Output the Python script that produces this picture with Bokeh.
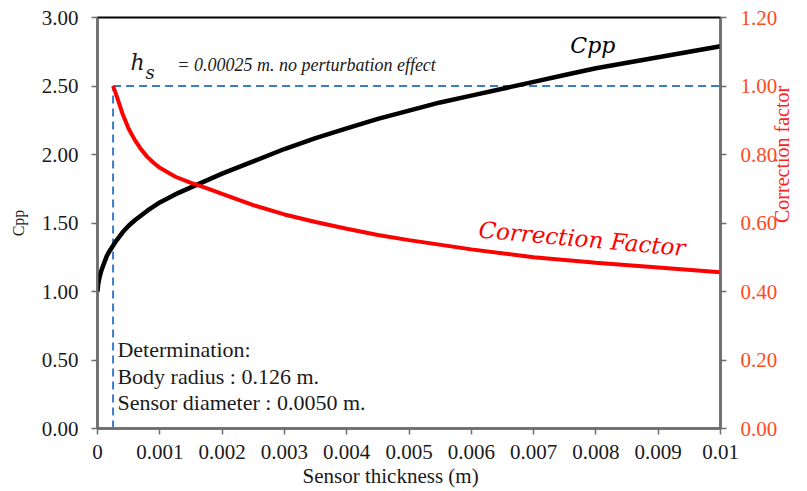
import math

from bokeh.embed import file_html
from bokeh.models import (CustomJSTickFormatter, FixedTicker, Label, LinearAxis,
                          NumeralTickFormatter, Range1d, Title)
from bokeh.plotting import figure
from bokeh.resources import INLINE

# Pressure coefficient Cpp against sensor thickness (m)
thickness_cpp = [0, 0.00001, 0.00003, 0.00006, 0.0001, 0.00015, 0.0002, 0.0003,
                 0.0004, 0.0005, 0.0006, 0.0008, 0.001, 0.0013, 0.0016, 0.002,
                 0.0025, 0.003, 0.0035, 0.004, 0.0045, 0.005, 0.0055, 0.006,
                 0.0065, 0.007, 0.0075, 0.008, 0.0085, 0.009, 0.0095, 0.01]
cpp = [1.00, 1.05, 1.10, 1.15, 1.20, 1.26, 1.30, 1.37,
       1.43, 1.48, 1.52, 1.59, 1.65, 1.72, 1.78, 1.86,
       1.95, 2.04, 2.12, 2.19, 2.26, 2.32, 2.38, 2.43,
       2.48, 2.53, 2.58, 2.63, 2.67, 2.71, 2.75, 2.79]

# Correction factor, starting from the reference thickness h_s
hs = 0.00025
thickness_cf = [hs, 0.0003, 0.0004, 0.0005, 0.0006, 0.0007, 0.0008, 0.0009,
                0.001, 0.00125, 0.0015, 0.00175, 0.002, 0.0025, 0.003, 0.0035,
                0.004, 0.0045, 0.005, 0.006, 0.007, 0.008, 0.009, 0.01]
correction = [1.00, 0.975, 0.92, 0.875, 0.842, 0.815, 0.793, 0.776,
              0.761, 0.735, 0.717, 0.702, 0.685, 0.652, 0.625, 0.603,
              0.583, 0.565, 0.550, 0.523, 0.500, 0.484, 0.470, 0.456]
cf_reference = 1.00

x_ticks = [0, 0.001, 0.002, 0.003, 0.004, 0.005, 0.006, 0.007, 0.008, 0.009, 0.01]
cpp_ticks = [0, 0.5, 1.0, 1.5, 2.0, 2.5, 3.0]
cf_ticks = [0, 0.2, 0.4, 0.6, 0.8, 1.0, 1.2]

SERIF = "Liberation Serif"
MATH = "DejaVu Serif"
INK = "#1a1a1a"
AXIS_GREY = "#6e6e6e"
CF_TICK = "#FF4A1E"
CF_TITLE = "#FF2020"
DASH_BLUE = "#3A7CC8"

p = figure(width=807, height=491, output_backend="svg", toolbar_location=None,
           x_range=Range1d(x_ticks[0], x_ticks[-1]),
           y_range=Range1d(cpp_ticks[0], cpp_ticks[-1]),
           min_border_left=97, min_border_right=87,
           min_border_top=17, min_border_bottom=63)
p.extra_y_ranges = {"cf": Range1d(cf_ticks[0], cf_ticks[-1])}
p.grid.visible = False
p.background_fill_color = "white"
p.border_fill_color = "white"
p.outline_line_color = "black"
p.outline_line_width = 2

# bottom axis
xa = p.xaxis[0]
xa.ticker = FixedTicker(ticks=x_ticks)
xa.formatter = CustomJSTickFormatter(
    code="return tick == 0 ? '0' : tick.toFixed(3).replace(/0+$/, '');")
xa.major_label_standoff = 10

# x title, set a little left of the frame centre
p.add_layout(Title(text="Sensor thickness (m)", align="left", offset=205,
                   standoff=0, text_font=SERIF, text_font_style="normal",
                   text_font_size="21px", text_color=INK), "below")

# left axis
ya = p.yaxis[0]
ya.ticker = FixedTicker(ticks=cpp_ticks)
ya.formatter = NumeralTickFormatter(format="0.00")
ya.major_label_standoff = 13
ya.axis_label = "Cpp"
ya.axis_label_text_font = SERIF
ya.axis_label_text_font_style = "normal"
ya.axis_label_text_font_size = "16px"
ya.axis_label_text_color = INK
ya.axis_label_standoff = 12

# right axis for the correction factor
ra = LinearAxis(y_range_name="cf", ticker=FixedTicker(ticks=cf_ticks),
                formatter=NumeralTickFormatter(format="0.00"))
ra.major_label_standoff = 14
ra.major_label_text_color = CF_TICK
ra.axis_label = "Correction factor"
ra.axis_label_text_font = SERIF
ra.axis_label_text_font_style = "normal"
ra.axis_label_text_font_size = "20px"
ra.axis_label_text_color = CF_TITLE
ra.axis_label_orientation = math.pi / 2
ra.axis_label_standoff = 2
p.add_layout(ra, "right")

for ax in (xa, ya, ra):
    ax.axis_line_color = AXIS_GREY
    ax.axis_line_width = 2
    ax.major_tick_line_color = AXIS_GREY
    ax.major_tick_line_width = 1.5
    ax.major_tick_out = 6
    ax.major_tick_in = 0
    ax.minor_tick_line_color = None
    ax.major_label_text_font = SERIF
    ax.major_label_text_font_size = "21px"
for ax in (xa, ya):
    ax.major_label_text_color = INK

# reference lines at h_s and correction factor 1
p.line([hs, hs], [cf_ticks[0], cf_reference], y_range_name="cf",
       line_color=DASH_BLUE, line_width=2, line_dash="8 5")
p.line([hs, x_ticks[-1]], [cf_reference, cf_reference], y_range_name="cf",
       line_color=DASH_BLUE, line_width=2, line_dash="8 5")

# curves
p.line(thickness_cpp, cpp, line_color="black", line_width=4.5)
p.line(thickness_cf, correction, y_range_name="cf", line_color="#FF0000",
       line_width=4)

# annotations
p.add_layout(Label(x=0.00053, y=2.577, text="h", text_font=MATH,
                   text_font_style="italic", text_font_size="22px",
                   text_color=INK))
p.add_layout(Label(x=0.00077, y=2.52, text="s", text_font=MATH,
                   text_font_style="italic", text_font_size="18px",
                   text_color=INK))
p.add_layout(Label(x=0.00128, y=2.577, text="= 0.00025 m. no perturbation effect",
                   text_font=SERIF, text_font_style="italic",
                   text_font_size="18px", text_color=INK))
p.add_layout(Label(x=0.00759, y=2.708, text="Cpp", text_font=MATH,
                   text_font_style="italic", text_font_size="22px",
                   text_color="black"))
p.add_layout(Label(x=0.0061, y=1.358, text="Correction Factor", text_font=MATH,
                   text_font_style="italic", text_font_size="23px",
                   text_color="#FF0000", angle=-0.089))

notes = ["Determination:", "Body radius : 0.126 m.", "Sensor diameter : 0.0050 m."]
note_y = [0.482, 0.285, 0.095]
for txt, yy in zip(notes, note_y):
    p.add_layout(Label(x=0.00032, y=yy, text=txt, text_font=SERIF,
                       text_font_size="22px", text_color=INK))

open("out.html", "w").write(file_html(p, INLINE))
